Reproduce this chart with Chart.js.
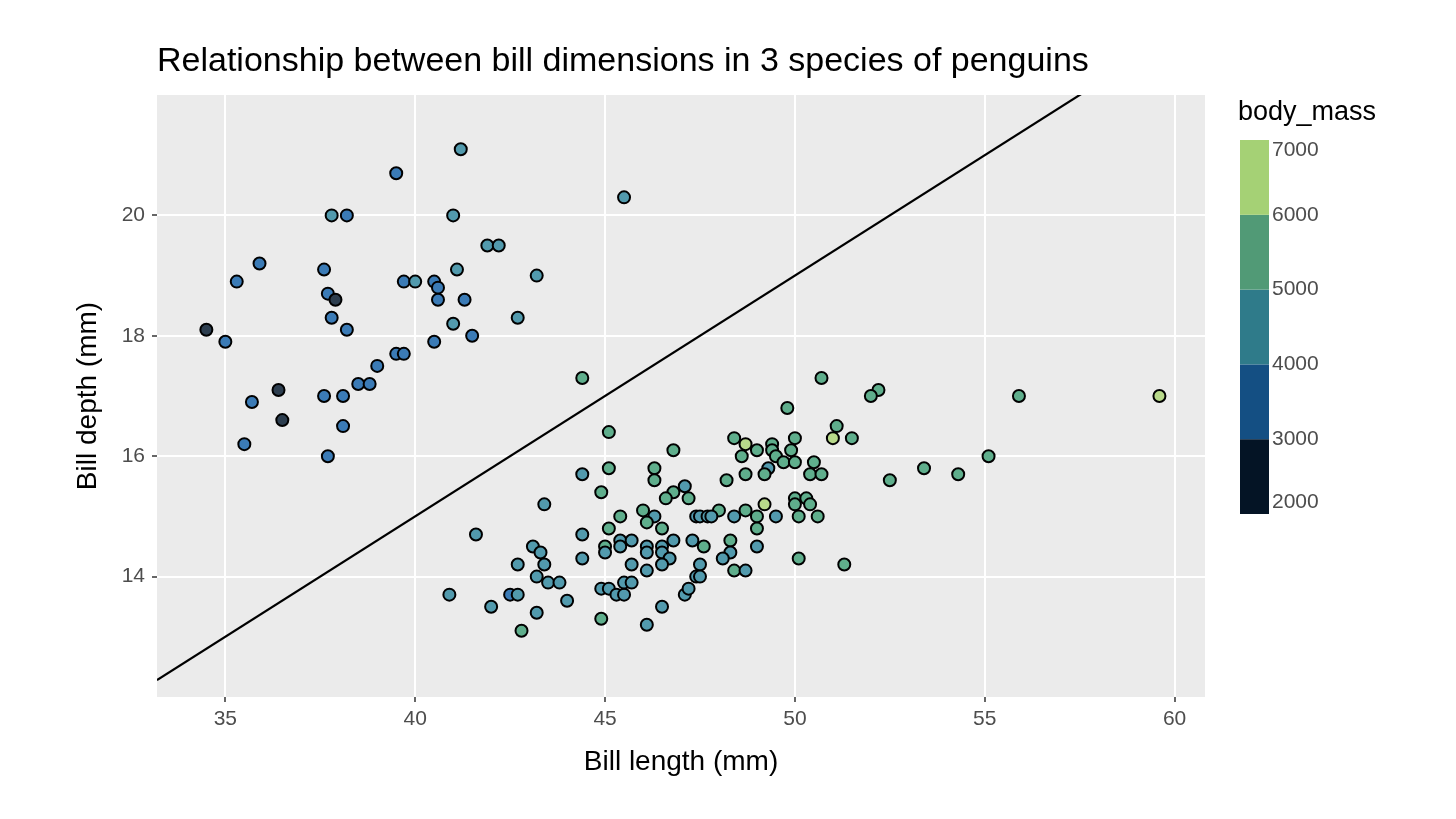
<!DOCTYPE html>
<html lang="en">
<head>
<meta charset="UTF-8">
<title>Relationship between bill dimensions in 3 species of penguins</title>
<script src="https://cdn.jsdelivr.net/npm/chart.js"></script>
<style>
  html, body { margin: 0; padding: 0; background: #fff; }
  #wrap { width: 1456px; height: 819px; }
</style>
</head>
<body>
<div id="wrap"><canvas id="penguinChart"></canvas></div>
<script>
// bill length / depth (mm) and body mass (g)
const billLength = [
  41.2, 39.5, 37.8, 38.2, 41.0, 41.9, 42.2, 35.9, 37.6, 41.1, 43.2, 35.3, 39.7, 40.0, 40.5,
  40.6, 37.7, 37.9, 40.6, 41.3, 37.8, 42.7, 41.0, 34.5, 38.2, 41.5, 35.0, 40.5, 39.5, 39.7,
  39.0, 38.5, 38.8, 36.4, 35.7, 37.6, 38.1, 36.5, 38.1, 35.5, 37.7, 45.5, 44.4,
  45.1, 46.8, 45.1, 46.3, 44.4, 46.3, 44.9, 47.1, 46.8, 46.6, 47.2, 43.4, 46.0, 46.3, 45.4,
  47.4, 46.1, 46.5, 45.1, 41.6, 44.4, 45.4, 45.7, 46.8, 47.3, 45.0, 45.4, 46.1, 46.5, 43.1,
  43.3, 45.0, 46.1, 46.5, 46.7, 44.4, 42.7, 43.4, 45.7, 46.5, 46.1, 43.2, 47.4, 43.5, 43.8,
  40.9, 42.5, 42.7, 44.9, 45.1, 45.3, 45.5, 45.5, 45.7, 47.1, 47.2, 44.0, 42.0, 46.5, 43.2,
  44.9, 46.1, 42.8,
  50.7, 52.2, 52.0, 49.8, 51.1, 51.0, 51.5, 48.4, 48.7, 49.4, 50.0, 49.0, 49.4, 49.9, 48.6,
  49.5, 49.7, 50.0, 50.5, 49.3, 49.2, 48.7, 50.4, 50.7, 48.2, 52.5, 53.4, 49.2, 50.0, 50.0,
  50.3, 50.4, 48.0, 48.7, 47.5, 47.7, 47.8, 48.4, 49.0, 49.5, 50.1, 50.6, 49.0, 47.6, 48.3,
  48.3, 48.1, 49.0, 47.5, 47.5, 48.4, 48.7, 50.1, 51.3, 55.9, 59.6, 55.1, 54.3
];
const billDepth = [
  21.1, 20.7, 20.0, 20.0, 20.0, 19.5, 19.5, 19.2, 19.1, 19.1, 19.0, 18.9, 18.9, 18.9, 18.9,
  18.8, 18.7, 18.6, 18.6, 18.6, 18.3, 18.3, 18.2, 18.1, 18.1, 18.0, 17.9, 17.9, 17.7, 17.7,
  17.5, 17.2, 17.2, 17.1, 16.9, 17.0, 17.0, 16.6, 16.5, 16.2, 16.0, 20.3, 17.3,
  16.4, 16.1, 15.8, 15.8, 15.7, 15.6, 15.4, 15.5, 15.4, 15.3, 15.3, 15.2, 15.1, 15.0, 15.0,
  15.0, 14.9, 14.8, 14.8, 14.7, 14.7, 14.6, 14.6, 14.6, 14.6, 14.5, 14.5, 14.5, 14.5, 14.5,
  14.4, 14.4, 14.4, 14.4, 14.3, 14.3, 14.2, 14.2, 14.2, 14.2, 14.1, 14.0, 14.0, 13.9, 13.9,
  13.7, 13.7, 13.7, 13.8, 13.8, 13.7, 13.7, 13.9, 13.9, 13.7, 13.8, 13.6, 13.5, 13.5, 13.4,
  13.3, 13.2, 13.1,
  17.3, 17.1, 17.0, 16.8, 16.5, 16.3, 16.3, 16.3, 16.2, 16.2, 16.3, 16.1, 16.1, 16.1, 16.0,
  16.0, 15.9, 15.9, 15.9, 15.8, 15.7, 15.7, 15.7, 15.7, 15.6, 15.6, 15.8, 15.2, 15.3, 15.2,
  15.3, 15.2, 15.1, 15.1, 15.0, 15.0, 15.0, 15.0, 15.0, 15.0, 15.0, 15.0, 14.8, 14.5, 14.6,
  14.4, 14.3, 14.5, 14.2, 14.0, 14.1, 14.1, 14.3, 14.2, 17.0, 17.0, 16.0, 15.7
];
const bodyMass = [
  4600, 3600, 4500, 3700, 4400, 4300, 4400, 3800, 3500, 4300, 4700, 3800, 3700, 4200, 3800,
  3900, 3600, 2900, 3500, 3700, 3500, 4200, 4100, 2900, 3700, 3600, 3400, 3800, 3700, 3600,
  3500, 3400, 3300, 2900, 3300, 3200, 3400, 2900, 3400, 3300, 3300, 4600, 5300,
  5400, 5200, 5300, 5300, 4700, 5200, 5300, 4800, 5300, 5300, 5200, 4700, 5100, 4800, 5100,
  4900, 5200, 5100, 5200, 4600, 4700, 4600, 4700, 4800, 4700, 5100, 4600, 4800, 4700, 4500,
  4600, 4700, 4700, 4600, 4700, 4600, 4500, 4600, 4700, 4800, 4700, 4600, 4800, 4600, 4600,
  4500, 3900, 4400, 4500, 4600, 4500, 4600, 4600, 4700, 4700, 4600, 4600, 4500, 4600, 4500,
  5100, 4600, 5200,
  5500, 5500, 5400, 5700, 5600, 6100, 5500, 5400, 6200, 5600, 5500, 5400, 5500, 5400, 5300,
  5500, 5600, 5500, 5600, 4500, 5500, 5300, 5400, 5500, 5200, 5400, 5500, 6100, 5400, 5500,
  5500, 5400, 5200, 5300, 4900, 4800, 4900, 4900, 5200, 4800, 5300, 5400, 5100, 5100, 5200,
  4900, 4900, 4900, 4800, 4700, 5100, 4900, 5200, 5300, 5500, 6200, 5500, 5400
];

const massBreaks = [2000, 3000, 4000, 5000, 6000, 7000];
const stepColors = ['#041425', '#144f83', '#2f7b8a', '#519a76', '#a5d175'];
const pointColors = ['#2d3e4f', '#3b7bb6', '#529aad', '#5fae8c', '#b8d98a'];
const xTicks = [35, 40, 45, 50, 55, 60];
const yTicks = [14, 16, 18, 20];
const xRange = [33.2, 60.8];
const yRange = [12.0, 22.0];
const refSlope = 0.4;
const refIntercept = -1;

const FONT = '"Liberation Sans", Arial, Helvetica, sans-serif';

function massBin(m) {
  for (let i = 0; i < massBreaks.length - 1; i++) {
    if (m < massBreaks[i + 1]) return i;
  }
  return massBreaks.length - 2;
}

const points = billLength.map((x, i) => ({ x: x, y: billDepth[i] }));
const fills = bodyMass.map(m => pointColors[massBin(m)]);
const refLine = xRange.map(x => ({ x: x, y: refSlope * x + refIntercept }));

// grey panel behind the grid
const panelBg = {
  id: 'panelBg',
  beforeDraw(chart) {
    const { ctx, chartArea: a } = chart;
    ctx.save();
    ctx.fillStyle = '#ebebeb';
    ctx.fillRect(a.left, a.top, a.right - a.left, a.bottom - a.top);
    ctx.restore();
  }
};

// title + stepped colour bar on the right
const decorations = {
  id: 'decorations',
  afterDraw(chart) {
    const ctx = chart.ctx;
    ctx.save();
    ctx.fillStyle = '#000';
    ctx.textAlign = 'left';
    ctx.textBaseline = 'alphabetic';
    ctx.font = '34px ' + FONT;
    ctx.fillText('Relationship between bill dimensions in 3 species of penguins', 157, 71);

    ctx.font = '27px ' + FONT;
    ctx.fillText('body_mass', 1238, 120);

    const barX = 1240, barW = 29, barTop = 140, barBottom = 514;
    const n = stepColors.length;
    const h = (barBottom - barTop) / n;
    for (let i = 0; i < n; i++) {
      ctx.fillStyle = stepColors[i];
      ctx.fillRect(barX, barBottom - (i + 1) * h, barW, h);
    }
    ctx.fillStyle = '#4d4d4d';
    ctx.font = '21px ' + FONT;
    ctx.textBaseline = 'middle';
    massBreaks.forEach((b, i) => {
      let y = barBottom - i * h;
      if (i === 0) y -= 12;
      if (i === massBreaks.length - 1) y += 10;
      ctx.fillText(String(b), barX + barW + 3, y);
    });
    ctx.restore();
  }
};

new Chart(document.getElementById('penguinChart'), {
  type: 'scatter',
  data: {
    datasets: [
      {
        type: 'line',
        data: refLine,
        borderColor: '#000',
        borderWidth: 2.2,
        pointRadius: 0,
        fill: false
      },
      {
        data: points,
        backgroundColor: fills,
        borderColor: '#000',
        borderWidth: 2,
        pointRadius: 6
      }
    ]
  },
  options: {
    responsive: true,
    maintainAspectRatio: false,
    animation: false,
    layout: { padding: { top: 95, right: 251, bottom: 0, left: 0 } },
    plugins: {
      legend: { display: false },
      title: { display: false },
      tooltip: { enabled: false }
    },
    scales: {
      x: {
        type: 'linear',
        min: xRange[0],
        max: xRange[1],
        afterBuildTicks: s => { s.ticks = xTicks.map(v => ({ value: v })); },
        afterFit: s => { s.height = 122; },
        border: { display: false },
        grid: { color: '#ffffff', lineWidth: 2, tickColor: '#333333', tickLength: 5, tickWidth: 1.5 },
        ticks: { color: '#4d4d4d', font: { family: FONT, size: 21 }, padding: 5, maxRotation: 0 },
        title: {
          display: true,
          text: 'Bill length (mm)',
          color: '#000',
          font: { family: FONT, size: 28 },
          padding: { top: 0, bottom: 40 }
        }
      },
      y: {
        type: 'linear',
        min: yRange[0],
        max: yRange[1],
        afterBuildTicks: s => { s.ticks = yTicks.map(v => ({ value: v })); },
        afterFit: s => { s.width = 157; },
        border: { display: false },
        grid: { color: '#ffffff', lineWidth: 2, tickColor: '#333333', tickLength: 5, tickWidth: 1.5 },
        ticks: { color: '#4d4d4d', font: { family: FONT, size: 21 }, padding: 7 },
        title: {
          display: true,
          text: 'Bill depth (mm)',
          color: '#000',
          font: { family: FONT, size: 28 },
          padding: { top: 71, bottom: 0 }
        }
      }
    }
  },
  plugins: [panelBg, decorations]
});
</script>
</body>
</html>
